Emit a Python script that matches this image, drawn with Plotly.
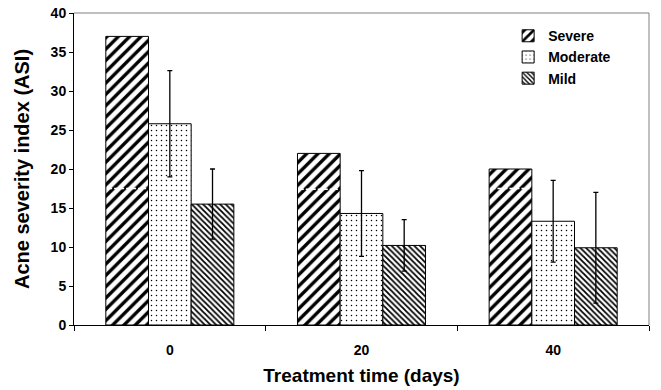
import plotly.graph_objects as go

# ---- data ----
days = ["0", "20", "40"]
severe = [37.0, 22.0, 20.0]
moderate = [25.8, 14.3, 13.3]
moderate_err = [6.8, 5.5, 5.25]
mild = [15.5, 10.2, 9.9]
mild_err = [4.5, 3.3, 7.1]
severe_break = [17.5, 17.4, 17.5]   # faint broken line across the hatched Severe bars

BARGAP = 0.332
FONT = "Liberation Sans"

fig = go.Figure()

def bar(name, vals, shape, size, solidity, err=None):
    kw = {}
    if err is not None:
        kw["error_y"] = dict(type="data", array=err, visible=True,
                             color="black", thickness=1.3, width=2.5)
    return go.Bar(
        name=name, x=days, y=vals,
        marker=dict(color="white",
                    line=dict(color="black", width=1),
                    pattern=dict(shape=shape, size=size, solidity=solidity,
                                 fgcolor="black", bgcolor="white", fillmode="replace")),
        **kw)

fig.add_trace(bar("Severe", severe, "/", 8, 0.42))
fig.add_trace(bar("Moderate", moderate, ".", 5, 0.07, moderate_err))
fig.add_trace(bar("Mild", mild, "\\", 4, 0.45, mild_err))

# white broken line across Severe bars, positioned via an overlaid numeric axis
bw = (1 - BARGAP) / 3
xs, ys = [], []
for i, v in enumerate(severe_break):
    xs += [i - 1.5 * bw + 0.012, i - 0.5 * bw - 0.012, None]
    ys += [v, v, None]
fig.add_trace(go.Scatter(x=xs, y=ys, xaxis="x2", mode="lines",
                         line=dict(color="white", width=1.5, dash="4px,2px"),
                         showlegend=False, hoverinfo="skip"))

fig.update_layout(
    width=661, height=390,
    margin=dict(l=74, r=12, t=13, b=65, autoexpand=False),
    plot_bgcolor="white", paper_bgcolor="white",
    barmode="group", bargap=BARGAP, bargroupgap=0,
    font=dict(family=FONT, color="black", size=14),
    xaxis=dict(type="category", tickson="boundaries", ticks="outside", ticklen=5,
               tickcolor="black", showline=True, linecolor="black", linewidth=1,
               showgrid=False, automargin=False, ticklabelstandoff=12,
               tickfont=dict(family=FONT, size=14, weight="bold"),
               title=dict(text="Treatment time (days)",
                          font=dict(family=FONT, size=19, weight="bold"), standoff=11)),
    xaxis2=dict(overlaying="x", range=[-0.5, 2.5], visible=False),
    yaxis=dict(range=[0, 40], dtick=5, ticks="outside", ticklen=4, tickcolor="black",
               showline=True, linecolor="black", linewidth=1, showgrid=False,
               zeroline=False, automargin=False,
               tickfont=dict(family=FONT, size=14, weight="bold"),
               title=dict(text="Acne severity index (ASI)",
                          font=dict(family=FONT, size=20, weight="bold"), standoff=15)),
    legend=dict(x=0.755, y=0.977, xanchor="left", yanchor="top",
                bgcolor="rgba(0,0,0,0)", font=dict(family=FONT, size=14, weight="bold"),
                tracegroupgap=0, itemwidth=30),
    shapes=[
        dict(type="line", xref="paper", yref="paper", x0=0, x1=1, y0=1, y1=1,
             line=dict(color="#808080", width=1)),
        dict(type="line", xref="paper", yref="paper", x0=1, x1=1, y0=0, y1=1,
             line=dict(color="#808080", width=1)),
    ],
)

fig.write_html("out.html", config={"displayModeBar": False},
               post_script="document.body.style.margin='0';")
